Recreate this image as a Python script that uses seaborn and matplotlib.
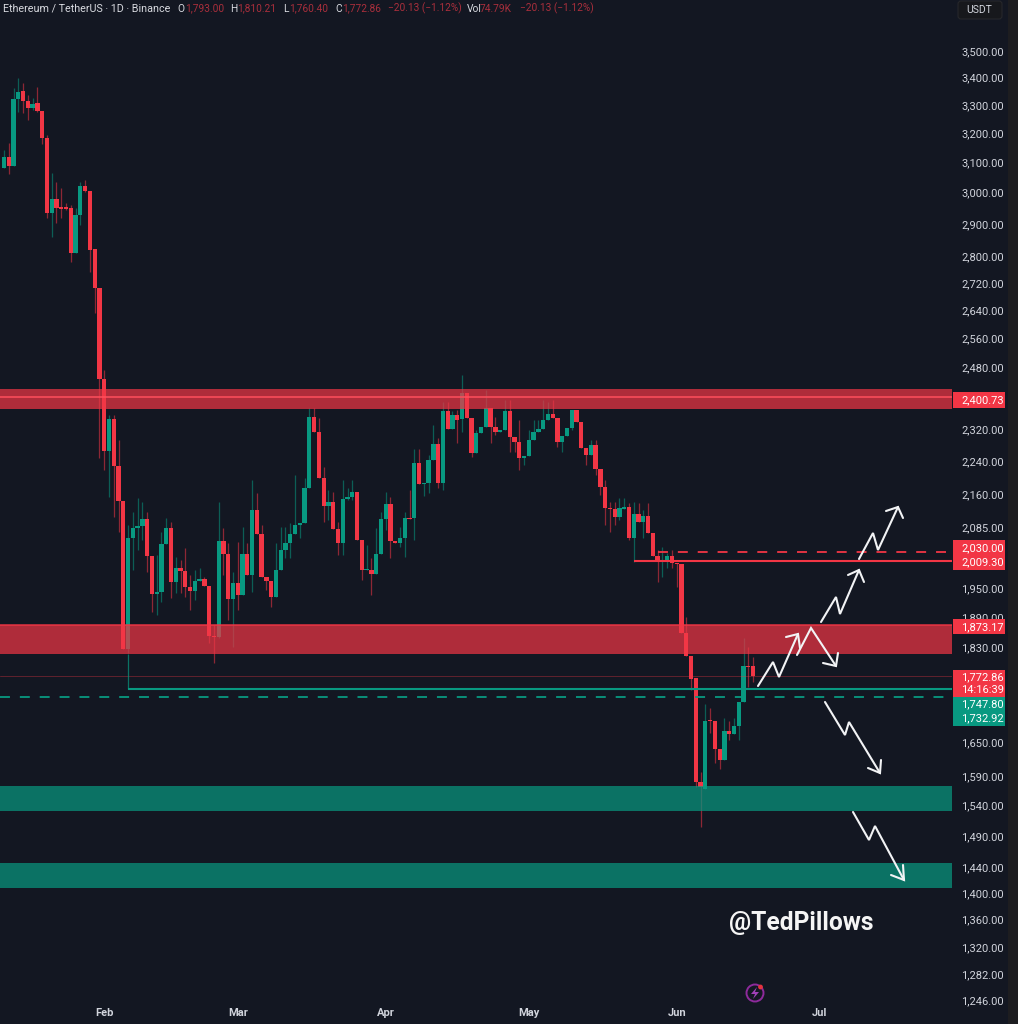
import matplotlib
matplotlib.use("Agg")
import matplotlib.pyplot as plt
from matplotlib.patches import Circle, Polygon, Rectangle, FancyBboxPatch
import numpy as np
import pandas as pd
import seaborn as sns

# Daily ETH/USDT candles, first bar on 11 January
opens = [3082, 3119, 3088, 3322, 3351, 3315, 3290, 3307, 3279, 3184,
         2934, 2979, 2954, 2954, 2950, 2809, 2928, 3022, 3005, 2822,
         2704, 2449, 2265, 2345, 2228, 2145, 1826, 2060, 2083, 2087,
         2103, 2020, 1938, 1943, 2047, 2083, 1964, 1994, 1988, 1953,
         1945, 1966, 1970, 1955, 1852, 1850, 2054, 2025, 1928, 1962,
         1936, 2025, 1979, 2124, 2069, 1975, 1966, 1932, 1990, 2034,
         2049, 2069, 2090, 2094, 2175, 2350, 2312, 2199, 2133, 2143,
         2081, 2049, 2150, 2154, 2166, 2056, 1990, 1990, 1981, 2025,
         2103, 2138, 2054, 2049, 2060, 2106, 2106, 2235, 2185, 2187,
         2243, 2282, 2187, 2366, 2320, 2355, 2345, 2412, 2348, 2260,
         2310, 2325, 2373, 2325, 2312, 2317, 2366, 2300, 2287, 2248,
         2253, 2292, 2312, 2320, 2343, 2358, 2348, 2287, 2302, 2322,
         2368, 2337, 2272, 2255, 2280, 2221, 2178, 2129, 2126, 2108,
         2126, 2131, 2060, 2115, 2096, 2110, 2072, 2020, 2007, 2012,
         2020, 2005, 2003, 1858, 1812, 1769, 1580, 1568, 1690, 1688,
         1638, 1618, 1670, 1665, 1679, 1724, 1792, 1793.00]
highs = [3143, 3167, 3362, 3399, 3380, 3336, 3326, 3366, 3279, 3194,
         3065, 3035, 3015, 2966, 2960, 2950, 3035, 3042, 3005, 2822,
         2704, 2474, 2355, 2355, 2292, 2145, 2090, 2119, 2152, 2143,
         2119, 2020, 2023, 2074, 2106, 2096, 2018, 2012, 2038, 1979,
         1990, 1994, 1975, 1955, 1874, 2143, 2083, 2049, 1985, 2051,
         2085, 2049, 2194, 2164, 2090, 1975, 1966, 2049, 2085, 2085,
         2094, 2206, 2094, 2199, 2373, 2373, 2348, 2226, 2171, 2166,
         2096, 2194, 2175, 2194, 2166, 2056, 2045, 2016, 2083, 2119,
         2166, 2154, 2054, 2085, 2119, 2171, 2270, 2270, 2187, 2255,
         2330, 2297, 2389, 2389, 2366, 2368, 2460, 2412, 2348, 2317,
         2325, 2420, 2373, 2350, 2317, 2394, 2394, 2300, 2343, 2253,
         2317, 2343, 2343, 2394, 2389, 2394, 2348, 2302, 2322, 2368,
         2368, 2337, 2272, 2292, 2292, 2221, 2194, 2143, 2143, 2152,
         2152, 2140, 2143, 2140, 2124, 2140, 2072, 2034, 2040, 2027,
         2034, 2005, 2003, 1891, 1812, 1769, 1597, 1720, 1712, 1688,
         1638, 1694, 1688, 1694, 1724, 1848, 1830, 1810.21]
lows = [3082, 3062, 3088, 3275, 3272, 3247, 3282, 3275, 3163, 2918,
        2859, 2903, 2918, 2944, 2782, 2809, 2896, 3002, 2752, 2632,
        2248, 2219, 2154, 2108, 2074, 1826, 1818, 1990, 2034, 2056,
        1985, 1901, 1895, 1922, 2047, 1930, 1941, 1941, 1932, 1905,
        1926, 1966, 1955, 1838, 1798, 1848, 1979, 1884, 1830, 1905,
        1936, 1979, 1943, 2069, 1975, 1947, 1911, 1932, 1990, 2016,
        2016, 2069, 2060, 2094, 2175, 2312, 2199, 2096, 2101, 2081,
        2023, 2023, 2147, 2147, 2056, 1968, 1990, 1936, 1981, 2025,
        2078, 2016, 2049, 2040, 2018, 2103, 2056, 2185, 2157, 2164,
        2243, 2175, 2171, 2320, 2320, 2285, 2312, 2348, 2250, 2260,
        2310, 2325, 2285, 2305, 2312, 2317, 2262, 2262, 2219, 2231,
        2253, 2292, 2312, 2320, 2343, 2348, 2275, 2262, 2302, 2317,
        2337, 2272, 2231, 2255, 2206, 2159, 2090, 2074, 2090, 2101,
        2126, 2056, 2007, 2096, 2060, 2072, 2020, 1964, 1975, 1994,
        1994, 1953, 1858, 1812, 1746, 1571, 1504, 1568, 1666, 1613,
        1602, 1618, 1654, 1665, 1654, 1724, 1752, 1760.40]
closes = [3119, 3088, 3322, 3347, 3315, 3290, 3304, 3279, 3184, 2934,
          2979, 2950, 2947, 2947, 2809, 2928, 3022, 3005, 2819, 2704,
          2449, 2265, 2345, 2228, 2145, 1826, 2060, 2083, 2087, 2103,
          2020, 1938, 1943, 2047, 2083, 1964, 1994, 1988, 1953, 1945,
          1966, 1970, 1955, 1852, 1850, 2054, 2025, 1928, 1962, 1936,
          2025, 1979, 2124, 2069, 1975, 1966, 1932, 1990, 2034, 2049,
          2069, 2090, 2094, 2175, 2350, 2312, 2199, 2133, 2143, 2081,
          2049, 2150, 2154, 2166, 2056, 1990, 1992, 1981, 2025, 2103,
          2138, 2054, 2049, 2060, 2106, 2103, 2235, 2185, 2187, 2243,
          2282, 2187, 2366, 2320, 2355, 2343, 2412, 2348, 2260, 2310,
          2325, 2373, 2325, 2312, 2317, 2366, 2300, 2287, 2248, 2253,
          2292, 2312, 2320, 2343, 2358, 2348, 2287, 2302, 2322, 2368,
          2337, 2272, 2255, 2280, 2221, 2178, 2129, 2126, 2108, 2129,
          2131, 2060, 2115, 2096, 2110, 2072, 2020, 2007, 2012, 2020,
          2005, 2003, 1858, 1812, 1767, 1580, 1571, 1688, 1688, 1638,
          1618, 1670, 1665, 1679, 1724, 1792, 1790, 1772.86]

month_labels = ["Feb", "Mar", "Apr", "May", "Jun", "Jul"]
month_starts = [21, 49, 80, 110, 141, 171]
price_ticks = [3500, 3400, 3300, 3200, 3100, 3000, 2900, 2800, 2720, 2640, 2560,
               2480, 2320, 2240, 2160, 2085, 1950, 1890, 1830, 1650, 1590, 1540,
               1490, 1440, 1400, 1360, 1320, 1282, 1246]

# Supply and demand zones as (low, high) prices
supply_zones = [(2371, 2423), (1816, 1873.17)]
demand_zones = [(1531, 1573), (1407, 1447)]

BG = "#131722"
RED = "#f23645"
GREEN = "#089981"
TEXT = "#d1d4dc"

sns.set_theme(style="dark", rc={"axes.facecolor": BG, "figure.facecolor": BG, "axes.grid": False})
plt.rcParams["font.family"] = ["Roboto", "DejaVu Sans"]

W, H = 1018, 1024
fig = plt.figure(figsize=(W / 100, H / 100), dpi=100, facecolor=BG)
ax = fig.add_axes([0, (H - 1003) / H, 952 / W, 1003 / H], facecolor=BG)
ax.set_yscale("log")

candles = pd.DataFrame({"day": np.arange(len(opens)), "open": opens, "high": highs,
                        "low": lows, "close": closes})
candles["rising"] = candles["close"] >= candles["open"]
candles["base"] = candles[["open", "close"]].min(axis=1)
candles["span"] = (candles["open"] - candles["close"]).abs().clip(lower=2.5)

for rising, colour in ((True, GREEN), (False, RED)):
    part = candles[candles["rising"] == rising]
    ax.vlines(part["day"], part["low"], part["high"], color=colour, alpha=0.55, lw=0.9, zorder=1)
    sns.barplot(data=part, x="day", y="span", bottom=part["base"].to_numpy(), native_scale=True,
                color=colour, saturation=1, width=0.9, errorbar=None, linewidth=0, ax=ax, zorder=2)

ax.set_xlim(-0.84, 198.7)
ax.set_ylim(1242, 3700)
ax.set_xlabel("")
ax.set_ylabel("")

# Horizontal price levels
ax.axhline(1772.86, color=RED, lw=0.7, alpha=0.35, zorder=3)
ax.axhline(1732.92, color=GREEN, lw=1.3, dashes=(5.5, 5.5), zorder=3)
ax.hlines(1747.8, 26, 198.7, color=GREEN, lw=1.5, zorder=3)
ax.vlines(26, 1747.8, 1816, color=GREEN, lw=0.9, alpha=0.7, zorder=3)
ax.hlines(2030.0, 137, 198.7, color=RED, lw=1.3, linestyles=(0, (5.5, 5.5)), zorder=3)
ax.hlines(2009.3, 132, 198.7, color=RED, lw=1.5, zorder=3)

for low, high in supply_zones:
    ax.axhspan(low, high, color=RED, alpha=0.7, lw=0, zorder=4)
for low, high in demand_zones:
    ax.axhspan(low, high, color=GREEN, alpha=0.7, lw=0, zorder=4)
ax.axhline(2400.73, color="#ff4f5c", lw=1.3, alpha=0.85, zorder=5)
ax.axhline(1873.17, color=RED, lw=1.2, alpha=0.85, zorder=5)

ax.yaxis.tick_right()
ax.set_yticks(price_ticks)
ax.set_yticklabels([f"{p:,.2f}" for p in price_ticks])
ax.yaxis.set_minor_locator(matplotlib.ticker.NullLocator())
ax.tick_params(axis="y", length=0, pad=6.5, labelsize=8, labelcolor=TEXT)
ax.set_xticks(month_starts)
ax.set_xticklabels(month_labels, fontweight="bold")
ax.tick_params(axis="x", length=0, pad=3.5, labelsize=8, labelcolor=TEXT)
for spine in ax.spines.values():
    spine.set_visible(False)

# Overlay measured in canvas pixels for the toolbar, price tags and hand-drawn arrows
ov = fig.add_axes([0, 0, 1, 1], facecolor="none")
ov.set_xlim(0, W)
ov.set_ylim(H, 0)
ov.axis("off")

ov.add_patch(Rectangle((1008, 0), 10, H, color="#1d1d20", lw=0, zorder=1))
ov.add_patch(FancyBboxPatch((958, 1), 44, 18, boxstyle="round,pad=0,rounding_size=3",
                            fc="#17181c", ec="#26272b", lw=0.8, zorder=2))
ov.text(966, 10, "USDT", color=TEXT, fontsize=7.5, va="center", zorder=3)

tags = [(392, 408, RED, [("2,400.73", 400)]),
        (540, 570, RED, [("2,030.00", 548), ("2,009.30", 562)]),
        (619, 634, RED, [("1,873.17", 627)]),
        (670, 697, RED, [("1,772.86", 677), ("14:16:39", 690)]),
        (697, 726, GREEN, [("1,747.80", 704), ("1,732.92", 718)])]
for top, bottom, colour, lines in tags:
    ov.add_patch(Rectangle((953, top), 52, bottom - top, color=colour, lw=0, zorder=2))
    for label, y in lines:
        ov.text(961, y, label, color="white", fontsize=8, va="center", zorder=3)

# Freehand projection arrows: shaft then head
arrows = [([(758, 686), (773, 662), (779, 677), (798, 634)], [(786, 637), (798, 634), (800, 648)]),
          ([(797, 655), (811, 628), (836, 666)], [(823, 663), (836, 666), (838, 653)]),
          ([(821, 622), (836, 597), (840, 614), (859, 570)], [(848, 575), (859, 570), (864, 582)]),
          ([(859, 559), (873, 533), (878, 550), (898, 507)], [(886, 511), (898, 507), (903, 518)]),
          ([(825, 702), (845, 735), (849, 722), (880, 773)], [(868, 768), (880, 773), (881, 760)]),
          ([(853, 812), (869, 840), (875, 826), (904, 880)], [(891, 875), (904, 880), (903, 865)])]
for shaft, head in arrows:
    for path in (shaft, head):
        xs, ys = zip(*path)
        ov.plot(xs, ys, color="#f2f3f5", lw=1.5, solid_joinstyle="miter", zorder=4)

# Legend line along the top edge
header = [("Ethereum / TetherUS · 1D · Binance", 3, "#d8dae0", 7.75), ("O", 177, "#d8dae0", 7.3),
          ("1,793.00", 185, "#a92f3c", 7.3), ("H", 230, "#d8dae0", 7.3), ("1,810.21", 237, "#a92f3c", 7.3),
          ("L", 283, "#d8dae0", 7.3), ("1,760.40", 289, "#a92f3c", 7.3), ("C", 335, "#d8dae0", 7.3),
          ("1,772.86", 342, "#a92f3c", 7.3), ("−20.13 (−1.12%)", 388, "#a92f3c", 7.3),
          ("Vol", 467, "#d8dae0", 7.3), ("74.79K", 480, "#a92f3c", 7.3), ("−20.13 (−1.12%)", 520, "#a92f3c", 7.3)]
for label, x, colour, size in header:
    ov.text(x, 8.5, label, color=colour, fontsize=size, va="center", zorder=3)

ov.text(729, 923, "@TedPillows", color="#f5f5f5", fontsize=17.7, fontweight="bold", va="center", zorder=3)

# Lightning badge near the time axis
ov.add_patch(Circle((755, 993), 8.5, fc="none", ec="#8e2a9c", lw=1.4, zorder=3))
ov.add_patch(Polygon([(757, 987), (751, 994), (755, 994), (753, 999), (759, 992), (755, 992)],
                     closed=True, fc="#a040b8", lw=0, zorder=3))
ov.add_patch(Circle((760.5, 987), 2.4, fc="#e5333f", lw=0, zorder=4))

fig.savefig("out.png", dpi=100, facecolor=BG)
